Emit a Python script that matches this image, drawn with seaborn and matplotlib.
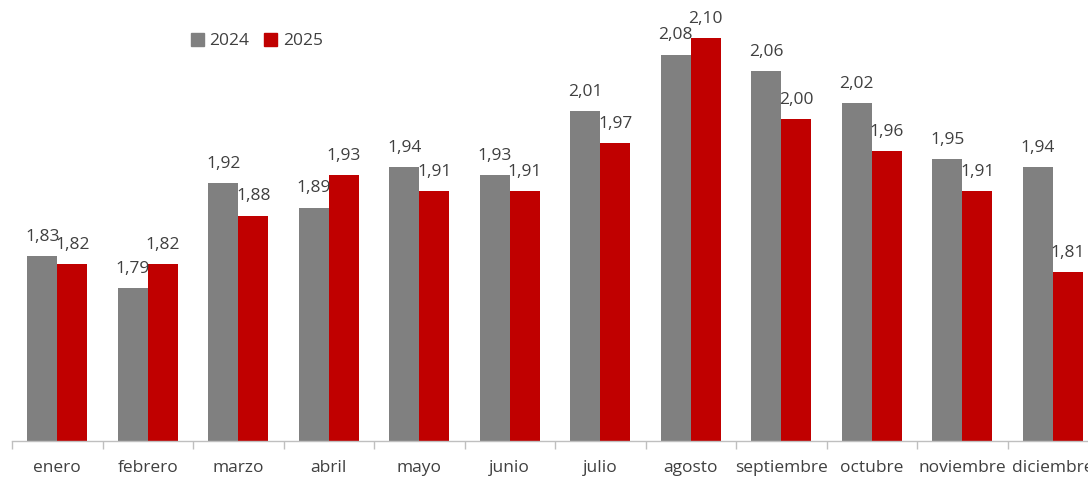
"""
Precio medio mensual 2024 vs 2025 - grouped bar chart.
"""

import pandas as pd
import matplotlib.pyplot as plt
import seaborn as sns
from matplotlib.ticker import FixedLocator

# === DATA ===
meses = ["enero", "febrero", "marzo", "abril", "mayo", "junio", "julio",
         "agosto", "septiembre", "octubre", "noviembre", "diciembre"]
valores_2024 = [1.83, 1.79, 1.92, 1.89, 1.94, 1.93, 2.01, 2.08, 2.06, 2.02, 1.95, 1.94]
valores_2025 = [1.82, 1.82, 1.88, 1.93, 1.91, 1.91, 1.97, 2.10, 2.00, 1.96, 1.91, 1.81]
series = ["2024", "2025"]

GRIS = "#808080"
ROJO = "#C00000"
TEXTO = "#404040"

df = pd.DataFrame({
    "mes": meses * 2,
    "valor": valores_2024 + valores_2025,
    "serie": [series[0]] * len(meses) + [series[1]] * len(meses),
})

sns.set_theme(style="white")
plt.rcParams["font.family"] = ["Open Sans", "DejaVu Sans"]

fig = plt.figure(figsize=(10.88, 4.79), dpi=100)
ax = fig.add_axes([12 / 1088, 38 / 479, 1086 / 1088, 0.9245])

sns.barplot(data=df, x="mes", y="valor", hue="serie", order=meses,
            hue_order=series, palette=[GRIS, ROJO], width=0.66, gap=0,
            saturation=1, linewidth=0, edgecolor="none", ax=ax, legend=True)

ax.set_ylim(1.60, 2.15)
ax.set_xlim(-0.5, len(meses) - 0.5)

# value labels
for cont in ax.containers:
    labels = [f"{v:.2f}".replace(".", ",") for v in cont.datavalues]
    ax.bar_label(cont, labels=labels, padding=8, fontsize=12.5, color=TEXTO)

# axis styling
for side in ["left", "right", "top"]:
    ax.spines[side].set_visible(False)
ax.spines["bottom"].set_color("#BFBFBF")
ax.spines["bottom"].set_linewidth(1)
ax.set_yticks([])
ax.set_xlabel("")
ax.set_ylabel("")
ax.xaxis.set_minor_locator(FixedLocator([i - 0.5 for i in range(len(meses) + 1)]))
ax.tick_params(axis="x", which="major", length=0, pad=14, labelsize=12.5, labelcolor=TEXTO)
ax.tick_params(axis="x", which="minor", length=6, width=1, color="#BFBFBF", bottom=True)

# legend
ax.get_legend().remove()
handles = [plt.Rectangle((0, 0), 1, 1, color=c) for c in [GRIS, ROJO]]
fig.legend(handles, series, loc="center left", bbox_to_anchor=(175 / 1088, 1 - 41 / 479),
           ncol=2, frameon=False, fontsize=12.5, labelcolor=TEXTO,
           handlelength=0.75, handleheight=0.75, handletextpad=0.3, columnspacing=0.9)

plt.savefig("out.png", dpi=100)
plt.close()
